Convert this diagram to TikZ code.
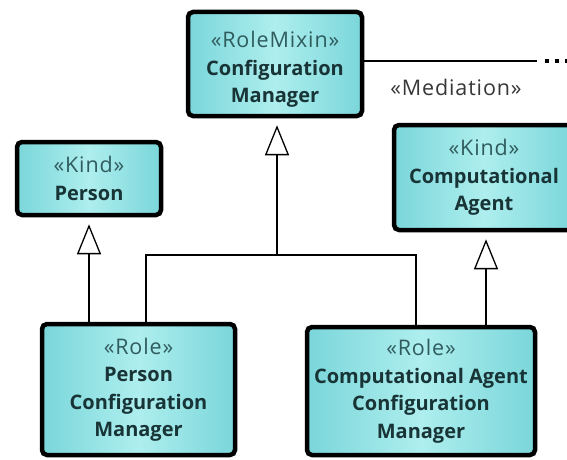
\documentclass[tikz,border=0pt]{standalone}
\usepackage{fontspec}
\setmainfont{Open Sans}
\newfontfamily\stereofont[LetterSpace=4]{Open Sans}
\usetikzlibrary{arrows.meta}

\definecolor{boxmid}{RGB}{174,238,238}
\definecolor{boxside}{RGB}{122,214,218}
\definecolor{nametext}{RGB}{24,52,54}
\definecolor{stereotext}{RGB}{48,92,94}
\definecolor{labeltext}{RGB}{55,55,55}

\tikzset{
  x=1pt, y=-1pt,
  cls/.style={draw=black, line width=4.5pt, rounded corners=5pt,
    left color=boxside, right color=boxside, middle color=boxmid,
    align=center, inner sep=0pt, text=nametext,
    font=\fontsize{20}{27.5}\selectfont\bfseries},
  assoc/.style={draw=black, line width=1.3pt},
  gen/.style={draw=black, line width=1.3pt,
    -{Triangle[length=30pt, width=24pt, fill=white]}, shorten >=7pt}
}
\newcommand{\stname}[1]{{\stereofont\fontsize{21.5}{27.5}\selectfont\mdseries\color{stereotext}«#1»}}

\begin{document}
\begin{tikzpicture}
\useasboundingbox (0,0) rectangle (567,460);

% classes
\node[cls, minimum width=174pt, minimum height=104pt] (cm) at (275,64)
  {\raisebox{-11pt}[0pt][0pt]{\begin{tabular}{@{}c@{}}\stname{RoleMixin}\\Configuration\\Manager\end{tabular}}};
\node[cls, minimum width=144pt, minimum height=73pt] (person) at (89,178.5)
  {\stname{Kind}\\Person};
\node[cls, minimum width=180pt, minimum height=105pt] (ca) at (484,177.5)
  {\stname{Kind}\\Computational\\Agent};
\node[cls, minimum width=193pt, minimum height=131pt] (pcm) at (138.5,389.5)
  {\stname{Role}\\Person\\Configuration\\Manager};
\node[cls, minimum width=228pt, minimum height=128pt] (cacm) at (421,391)
  {\stname{Role}\\Computational Agent\\Configuration\\Manager};

% mediation association leaving to the right
\coordinate (medEnd) at (537,61);
\draw[assoc] ([yshift=3pt]cm.east) -- (medEnd);
\foreach \dx in {10,20,30}
  \fill ([xshift=\dx pt-2pt, yshift=-2pt]medEnd) rectangle ++(4,-4);
\node[font=\stereofont\fontsize{21.5}{24}\selectfont, text=labeltext] (medlabel) at (456,87)
  {«Mediation»};

% generalization set for the role mixin
\coordinate (join) at (277,255);
\draw[assoc] ([xshift=7.5pt]pcm.north) |- (join) -| ([xshift=-5pt]cacm.north);
\draw[gen] (join) -- (join |- cm.south);

% generalizations to the kinds
\draw[gen] (pcm.north -| person.south) -- (person.south);
\draw[gen] ([xshift=2pt]cacm.north -| ca.south) -- ([xshift=2pt]ca.south);
\end{tikzpicture}
\end{document}
